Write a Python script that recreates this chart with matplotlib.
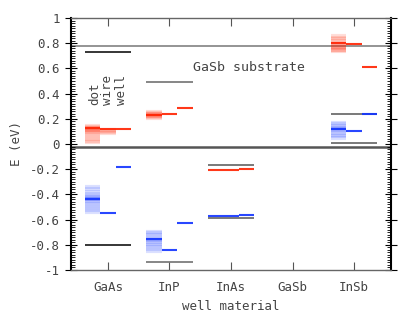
import numpy as np
import matplotlib
matplotlib.use("Agg")
import matplotlib.pyplot as plt
from matplotlib.ticker import MultipleLocator, FuncFormatter

# well materials on the x axis (GaSb is the substrate, no levels)
materials = ["GaAs", "InP", "InAs", "GaSb", "InSb"]

# GaSb substrate band edges (eV)
substrate_cb = 0.78
substrate_vb = -0.025

# bulk band edges of the well material
bulk_cb = [0.73, 0.49, -0.17, np.nan, 0.24]
bulk_vb = [-0.80, -0.94, -0.585, np.nan, 0.005]

# ground state levels: dot / wire / well
cb_dot = [0.125, 0.228, -0.21, np.nan, 0.80]
cb_wire = [0.12, 0.236, -0.21, np.nan, 0.79]
cb_well = [0.12, 0.285, -0.20, np.nan, 0.61]
vb_dot = [-0.435, -0.755, -0.575, np.nan, 0.12]
vb_wire = [-0.545, -0.84, -0.575, np.nan, 0.10]
vb_well = [-0.18, -0.625, -0.56, np.nan, 0.235]

# spread of levels over the ensemble of sizes
gaas_cb_dot_spread = [0.14, 0.135, 0.13, 0.125, 0.12, 0.115, 0.11, 0.105,
                      0.095, 0.085, 0.07, 0.055, 0.04, 0.025, 0.015]
gaas_cb_wire_spread = [0.115, 0.105, 0.095, 0.085]
inp_cb_dot_spread = [0.255, 0.245, 0.24, 0.235, 0.23, 0.225, 0.22, 0.215, 0.205]
insb_cb_dot_spread = [0.86, 0.845, 0.83, 0.815, 0.80, 0.79, 0.78, 0.77,
                      0.77, 0.76, 0.75, 0.75, 0.735]
gaas_vb_dot_spread = [-0.345, -0.36, -0.38, -0.395, -0.41, -0.42, -0.43,
                      -0.435, -0.44, -0.45, -0.46, -0.475, -0.49, -0.51,
                      -0.525, -0.54]
inp_vb_dot_spread = [-0.695, -0.71, -0.725, -0.74, -0.75, -0.76, -0.765,
                     -0.775, -0.79, -0.805, -0.82, -0.835, -0.85]
insb_vb_dot_spread = [0.17, 0.155, 0.14, 0.13, 0.125, 0.12, 0.115, 0.105,
                      0.09, 0.075, 0.06, 0.05]

RED = "#ff2200"
BLUE = "#1133ff"
TXT = "#444444"

plt.rcParams["font.family"] = ["DejaVu Sans Mono"]
plt.rcParams["axes.unicode_minus"] = False

fig = plt.figure(figsize=(4.15, 3.12), dpi=100)
ax = fig.add_axes([71 / 415, 1 - 270 / 312, 320 / 415, 252 / 312])

x = np.arange(1, len(materials) + 1)
half = 0.38
seg = 2 * half / 3

# substrate lines across the whole plot
ax.axhline(substrate_cb, color="#777777", lw=1.1, zorder=1)
ax.axhline(substrate_vb, color="#555555", lw=1.8, zorder=1)

# bulk band edges
bulk_colors = ["black", "#666666", "#555555", "#555555", "#555555"]
ax.hlines(bulk_cb, x - half, x + half, colors=bulk_colors, lw=1.1, zorder=2)
ax.hlines(bulk_vb, x - half, x + half, colors=bulk_colors, lw=1.1, zorder=2)


def spread(i, k, levels, color):
    x0 = x[i] - half + k * seg
    ax.hlines(levels, x0, x0 + seg, colors=color, lw=3.0, alpha=0.15, zorder=3)


spread(0, 0, gaas_cb_dot_spread, RED)
spread(0, 1, gaas_cb_wire_spread, RED)
spread(1, 0, inp_cb_dot_spread, RED)
spread(4, 0, insb_cb_dot_spread, RED)
spread(0, 0, gaas_vb_dot_spread, BLUE)
spread(1, 0, inp_vb_dot_spread, BLUE)
spread(4, 0, insb_vb_dot_spread, BLUE)

for k, (cb, vb) in enumerate([(cb_dot, vb_dot), (cb_wire, vb_wire),
                              (cb_well, vb_well)]):
    x0 = x - half + k * seg
    ax.hlines(cb, x0, x0 + seg, colors=RED, lw=1.5, alpha=0.9, zorder=4)
    ax.hlines(vb, x0, x0 + seg, colors=BLUE, lw=1.5, alpha=0.9, zorder=4)

ax.text(2.38, 0.605, "GaSb substrate", fontsize=9.5, color=TXT, va="center")
for dx, lab in zip([-0.21, 0.0, 0.225], ["dot", "wire", "well"]):
    ax.text(1 + dx, 0.31, lab, rotation=90, fontsize=9, color=TXT,
            ha="center", va="bottom")

ax.set_xlim(0.4, 5.6)
ax.set_ylim(-1, 1)
ax.set_xticks(x)
ax.set_xticklabels(materials)
ax.yaxis.set_major_locator(MultipleLocator(0.2))
ax.yaxis.set_minor_locator(MultipleLocator(0.02))
ax.yaxis.set_major_formatter(FuncFormatter(lambda v, _: f"{round(v, 1) + 0:g}"))

ax.tick_params(axis="x", direction="in", top=True, length=6, width=0.8,
               color="#555555", labelsize=9, labelcolor=TXT, pad=8)
ax.tick_params(axis="y", which="major", direction="inout", right=True,
               length=8, width=0.8, labelsize=9, labelcolor=TXT, pad=4)
ax.tick_params(axis="y", which="minor", direction="in", right=True,
               length=3, width=0.6)

for side in ["left", "right"]:
    ax.spines[side].set_linewidth(1.5)
for side in ["top", "bottom"]:
    ax.spines[side].set_color("#666666")
    ax.spines[side].set_linewidth(1.0)

ax.set_xlabel("well material", fontsize=9, color=TXT, labelpad=4)
ax.set_ylabel("E (eV)", fontsize=9, color=TXT, labelpad=5)

fig.savefig("out.png", dpi=100)
